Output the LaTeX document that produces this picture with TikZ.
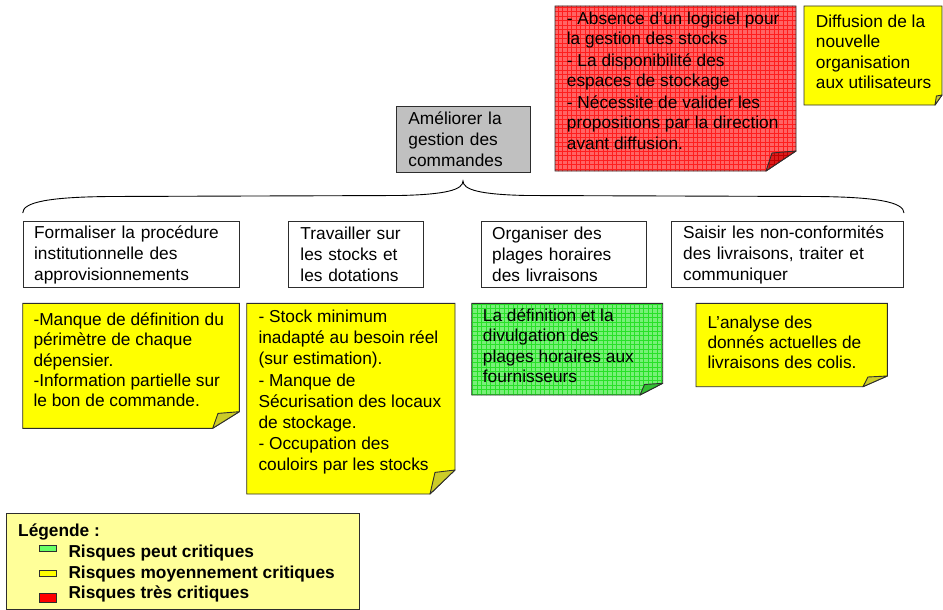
\documentclass[tikz,border=0pt]{standalone}
\usepackage{fontspec}
\setmainfont{Liberation Sans}
\usetikzlibrary{patterns}
\pgfdeclarepatternformonly{notegrid}{\pgfqpoint{-1pt}{-1pt}}{\pgfqpoint{5.5pt}{5.5pt}}{\pgfqpoint{4.5pt}{4.5pt}}{%
  \pgfsetlinewidth{0.7pt}%
  \pgfpathmoveto{\pgfqpoint{0pt}{0pt}}\pgfpathlineto{\pgfqpoint{4.5pt}{0pt}}%
  \pgfpathmoveto{\pgfqpoint{0pt}{0pt}}\pgfpathlineto{\pgfqpoint{0pt}{4.5pt}}%
  \pgfusepath{stroke}}
\newcommand\fsz{\fontsize{17.3}{21}\selectfont}
\definecolor{ylw}{RGB}{255,255,0}
\definecolor{ylwdark}{RGB}{204,204,40}
\definecolor{redbase}{RGB}{255,100,100}
\definecolor{redgrid}{RGB}{255,30,30}
\definecolor{reddark}{RGB}{220,30,30}
\definecolor{grnbase}{RGB}{120,240,120}
\definecolor{grngrid}{RGB}{40,225,40}
\definecolor{grndark}{RGB}{50,190,50}
\definecolor{gry}{RGB}{192,192,192}
\definecolor{legfill}{RGB}{255,255,153}
\definecolor{edge}{RGB}{45,45,45}
\tikzset{
  txt/.style={anchor=north west, inner sep=0pt, align=left, font=\fsz},
  outline/.style={draw=edge, line width=0.9pt},
  topbox/.style={outline, anchor=north west, inner xsep=11pt, inner ysep=0pt,
     minimum height=66pt, align=left, font=\fsz},
  fold/.style={outline, line join=round},
  swatch/.style={draw=edge, line width=0.8pt, anchor=north west, inner sep=0pt, minimum width=17pt},
  legtxt/.style={anchor=base west, inner sep=0pt, font=\fsz\bfseries},
  bracestyle/.style={draw=black, line width=0.9pt},
}
\begin{document}
\begin{tikzpicture}[x=1pt,y=-1pt]
\useasboundingbox (0,0) rectangle (943,610);

% ---- top goal box
\node[topbox, fill=gry, minimum width=134pt, minimum height=66.6pt, text width=110pt, inner xsep=12pt] (goal) at (396,105.7) {Améliorer la\\gestion des\\commandes};

% ---- red note
\path[preaction={fill=redbase}, pattern=notegrid, pattern color=redgrid, outline]
  (555,6) -- (796,6) -- (796,151) -- (766,171) -- (555,171) -- cycle;
\path[fold, preaction={fill=reddark}, pattern=notegrid, pattern color=red!75!black] (766,171) -- (796,151) -- (772,153) -- cycle;
\node[txt] (rtxt) at (566.7,9.1) {\strut- Absence d’un logiciel pour\\la gestion des stocks\\- La disponibilité des\\espaces de stockage\\- Nécessite de valider les\\propositions par la direction\\avant diffusion.};

% ---- top right yellow note
\path[outline, fill=ylw] (804,6) -- (942,6) -- (942,95) -- (935,105) -- (804,105) -- cycle;
\path[fold, fill=ylwdark] (935,105) -- (942,95) -- (936.4,96) -- cycle;
\node[txt, font=\fontsize{17.3}{20.5}\selectfont] (dtxt) at (815.7,12.5) {\strut Diffusion de la\\nouvelle\\organisation\\aux utilisateurs};

% ---- brace
\coordinate (tip) at (463,181);
\coordinate (bl) at (22.7,213);
\coordinate (br) at (904,213);
\draw[bracestyle] (bl) .. controls (22.7,202) and (50,197) .. (110,196.5)
  -- (400,195.5) .. controls (445,194.5) and (463,190) .. (tip)
  .. controls (463,190) and (481,194.5) .. (526,195.5)
  -- (816,196.5) .. controls (876,197) and (904,202) .. (br);

% ---- action boxes
\node[topbox, minimum width=216.6pt, text width=194.6pt, inner xsep=11pt] (a1) at (22.7,221) {Formaliser la procédure\\institutionnelle des\\approvisionnements};
\node[topbox, minimum width=134.7pt, text width=110.7pt, inner xsep=12pt] (a2) at (288,221) {Travailler sur\\les stocks et\\les dotations};
\node[topbox, minimum width=165pt, text width=143pt, inner xsep=11pt] (a3) at (480.7,221) {Organiser des\\plages horaires\\des livraisons};
\node[topbox, minimum width=232.3pt, text width=208.3pt, inner xsep=12pt] (a4) at (670.7,221) {Saisir les non-conformités\\des livraisons, traiter et\\communiquer};

% ---- yellow note 1
\path[outline, fill=ylw] (22.7,303.3) -- (239.3,303.3) -- (239.3,411.7) -- (212.7,428.3) -- (22.7,428.3) -- cycle;
\path[fold, fill=ylwdark] (212.7,428.3) -- (239.3,411.7) -- (218,413.4) -- cycle;
\node[txt, font=\fontsize{17.3}{20.4}\selectfont] (y1) at (33.3,310.8) {\strut-Manque de définition du\\périmètre de chaque\\dépensier.\\-Information partielle sur\\le bon de commande.};

% ---- yellow note 2
\path[outline, fill=ylw] (246.7,303.3) -- (455,303.3) -- (455,470) -- (430,494) -- (246.7,494) -- cycle;
\path[fold, fill=ylwdark] (430,494) -- (455,470) -- (435,472.4) -- cycle;
\node[txt, font=\fontsize{17.3}{21.2}\selectfont] (y2) at (258.3,307.5) {\strut- Stock minimum\\inadapté au besoin réel\\(sur estimation).\\- Manque de\\Sécurisation des locaux\\de stockage.\\- Occupation des\\couloirs par les stocks};

% ---- green note
\path[preaction={fill=grnbase}, pattern=notegrid, pattern color=grngrid, outline]
  (471.7,303.3) -- (662.7,303.3) -- (662.7,383.3) -- (640,395) -- (471.7,395) -- cycle;
\path[fold, fill=grndark] (640,395) -- (662.7,383.3) -- (644.5,384.5) -- cycle;
\node[txt, font=\fontsize{17.3}{20.4}\selectfont] (gtxt) at (482.7,306.8) {\strut La définition et la\\divulgation des\\plages horaires aux\\fournisseurs};

% ---- yellow note 4
\path[outline, fill=ylw] (696,303.3) -- (887.3,303.3) -- (887.3,376) -- (863,386.7) -- (696,386.7) -- cycle;
\path[fold, fill=ylwdark] (863,386.7) -- (887.3,376) -- (867.9,377) -- cycle;
\node[txt, font=\fontsize{17.3}{20}\selectfont] (y4) at (707.3,314.1) {\strut L’analyse des\\donnés actuelles de\\livraisons des colis.};

% ---- legend
\node[draw=edge, line width=0.9pt, fill=legfill, anchor=north west, minimum width=353.3pt, minimum height=95.7pt, inner sep=0pt] (leg) at (6,513.3) {};
\node[legtxt] (legt) at (18,536.5) {Légende :};
\node[swatch, fill={rgb,255:red,102;green,255;blue,102}, minimum height=5.7pt] (sg) at (39.3,545) {};
\node[legtxt] (lg) at (68.3,557.5) {Risques peut critiques};
\node[swatch, fill=ylw, minimum height=5.7pt] (sy) at (39.3,570) {};
\node[legtxt] (ly) at (68.3,578.5) {Risques moyennement critiques};
\node[swatch, fill=red, minimum height=8.4pt] (sr) at (39.3,593.3) {};
\node[legtxt] (lr) at (68.3,598.5) {Risques très critiques};
\end{tikzpicture}
\end{document}
